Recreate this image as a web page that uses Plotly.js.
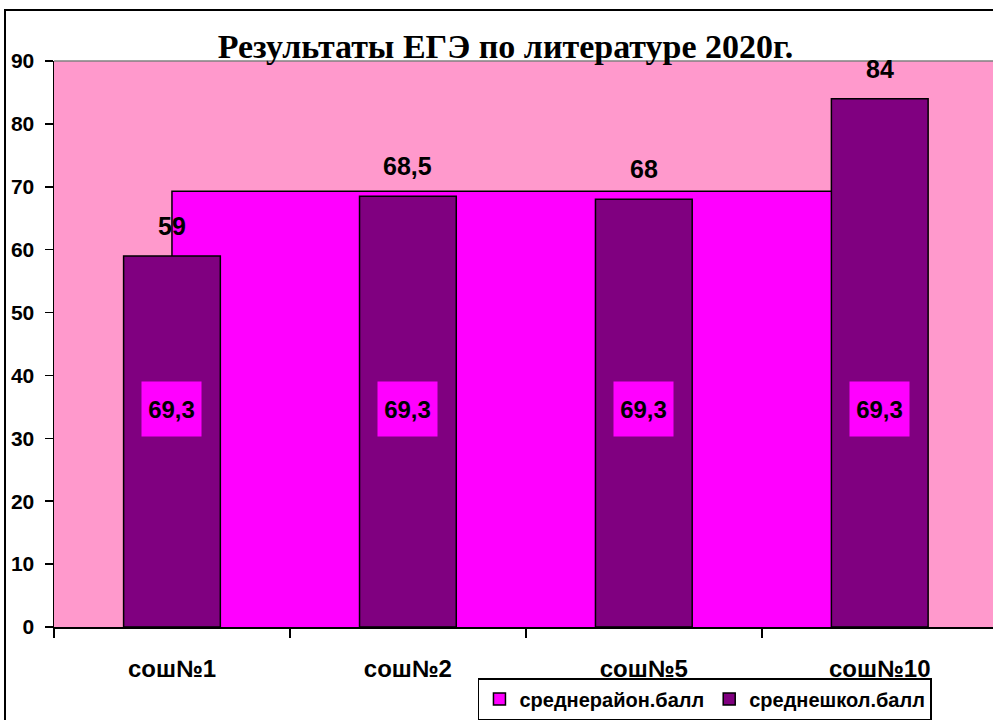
<!DOCTYPE html>
<html>
<head>
<meta charset="utf-8">
<script src="https://cdn.plot.ly/plotly-3.0.1.min.js"></script>
<style>
  html, body { margin: 0; padding: 0; background: #fff; overflow: hidden; }
  #chart { width: 993px; height: 720px; }
  #frame { position: absolute; left: 4px; top: 9px; width: 1000px; height: 720px;
           border-left: 2px solid #000; border-top: 2px solid #000; pointer-events: none; }
</style>
</head>
<body>
<div id="chart"></div>
<div id="frame"></div>
<script>
// school names and scores
var schools = ['сош№1', 'сош№2', 'сош№5', 'сош№10'];
var districtAvg = [69.3, 69.3, 69.3, 69.3];
var schoolAvg = [59, 68.5, 68, 84];

var seriesNames = ['среднерайон.балл', 'среднешкол.балл'];
var FONT = 'Liberation Sans, Arial';

function fmt(v) { return String(v).replace('.', ','); }

// district average as a closed area (drawn underneath the bars)
var areaX = [schools[0]].concat(schools, [schools[schools.length - 1]]);
var areaY = [0].concat(districtAvg, [0]);

var area = {
  x: areaX,
  y: areaY,
  type: 'scatter',
  mode: 'lines',
  fill: 'toself',
  fillcolor: '#FF00FF',
  line: { color: '#000', width: 1.5 },
  name: seriesNames[0],
  showlegend: false,
  hoverinfo: 'skip'
};

// bar with no visible values, only so the legend gets a square swatch for the area
var areaKey = {
  x: schools,
  y: districtAvg.map(function () { return null; }),
  type: 'bar',
  xaxis: 'x2',
  yaxis: 'y2',
  marker: { color: '#FF00FF', line: { color: '#000', width: 1.5 } },
  name: seriesNames[0],
  hoverinfo: 'skip'
};

var bars = {
  x: schools,
  y: schoolAvg,
  type: 'bar',
  xaxis: 'x2',
  yaxis: 'y2',
  width: 0.41,
  marker: { color: '#800080', line: { color: '#000', width: 1.5 } },
  name: seriesNames[1],
  hoverinfo: 'skip'
};

var annots = [];
for (var i = 0; i < schools.length; i++) {
  annots.push({
    xref: 'x2', yref: 'y2', x: schools[i], y: schoolAvg[i],
    text: fmt(schoolAvg[i]), showarrow: false, yanchor: 'middle', yshift: 30,
    font: { family: FONT, size: 25, color: '#000', weight: 'bold' }
  });
  annots.push({
    xref: 'x2', yref: 'y2', x: schools[i], y: districtAvg[i] / 2,
    text: fmt(districtAvg[i]), showarrow: false,
    width: 57, height: 52, bgcolor: '#FF00FF',
    font: { family: FONT, size: 24, color: '#000', weight: 'bold' }
  });
}

var xr = [-0.5, 3.48];

var layout = {
  width: 993,
  height: 720,
  margin: { l: 54, r: 0, t: 61, b: 89 },
  paper_bgcolor: '#fff',
  plot_bgcolor: '#FF99CC',
  barmode: 'overlay',
  title: {
    text: 'Результаты ЕГЭ по литературе 2020г.',
    font: { family: 'Liberation Serif, Times New Roman', size: 34, color: '#000', weight: 'bold' },
    x: 0.509, xanchor: 'center',
    y: 0.936, yanchor: 'middle', yref: 'container'
  },
  showlegend: true,
  legend: {
    orientation: 'h',
    x: 0.4515, xanchor: 'left',
    y: -0.091, yanchor: 'top',
    bgcolor: '#fff',
    bordercolor: '#000',
    borderwidth: 1.5,
    font: { family: FONT, size: 20, color: '#000', weight: 'bold' },
    traceorder: 'normal',
    itemwidth: 30
  },
  xaxis: {
    type: 'category',
    range: xr,
    tickson: 'boundaries',
    ticks: 'outside',
    ticklen: 9,
    tickcolor: '#000',
    tickwidth: 1.5,
    showline: true,
    linecolor: '#000',
    linewidth: 1.5,
    showgrid: false,
    ticklabelstandoff: 20,
    tickfont: { family: FONT, size: 24, color: '#000', weight: 'bold' },
    fixedrange: true
  },
  yaxis: {
    range: [0, 90],
    dtick: 10,
    ticks: 'outside',
    ticklen: 8,
    tickcolor: '#000',
    tickwidth: 1.5,
    showline: true,
    linecolor: '#000',
    linewidth: 1.5,
    showgrid: false,
    zeroline: false,
    ticklabelstandoff: 6,
    tickfont: { family: FONT, size: 21, color: '#000', weight: 'bold' },
    fixedrange: true
  },
  xaxis2: {
    type: 'category', overlaying: 'x', range: xr, visible: false, fixedrange: true
  },
  yaxis2: {
    overlaying: 'y', range: [0, 90], visible: false, fixedrange: true
  },
  shapes: [
    { type: 'line', xref: 'paper', yref: 'paper', x0: 0, x1: 1, y0: 1, y1: 1,
      line: { color: '#808080', width: 1.5 } }
  ],
  annotations: annots
};

Plotly.newPlot('chart', [area, areaKey, bars], layout, { displayModeBar: false, staticPlot: true });
</script>
</body>
</html>
